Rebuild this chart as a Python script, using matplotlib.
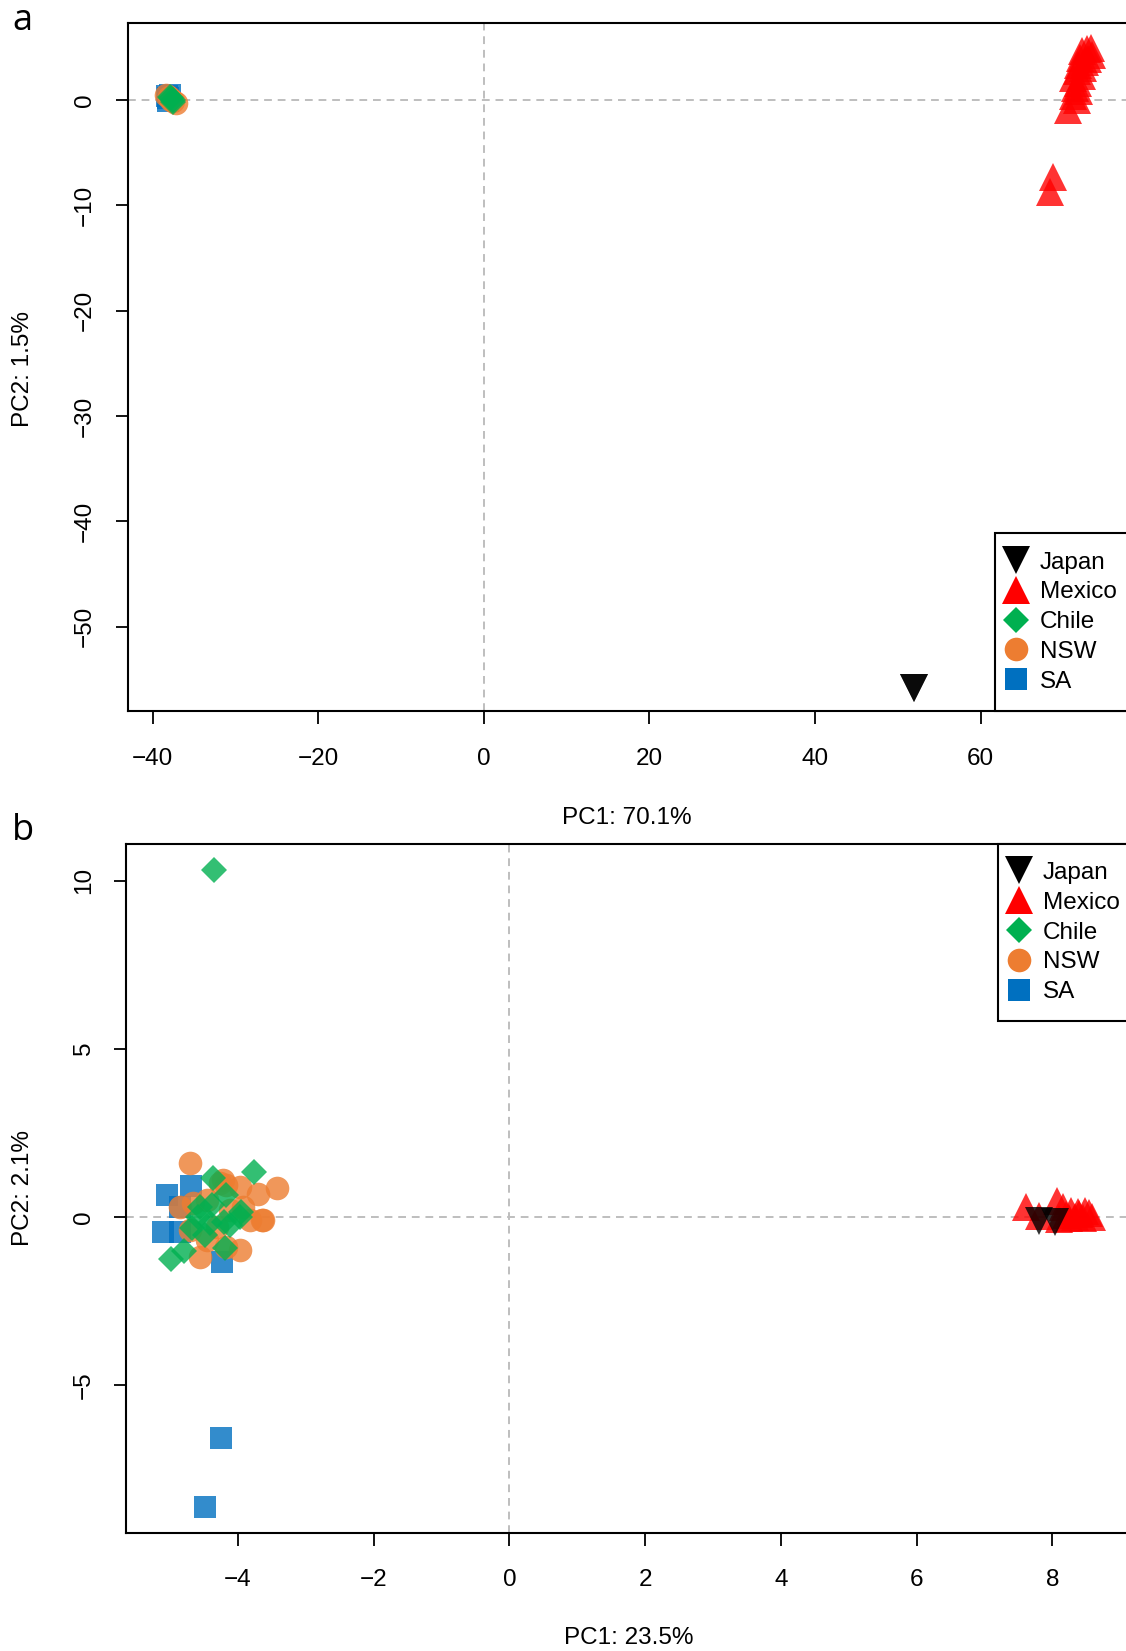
import matplotlib
matplotlib.use("Agg")
import matplotlib.pyplot as plt
from matplotlib.lines import Line2D

plt.rcParams['font.family'] = ['Liberation Sans', 'DejaVu Sans']
plt.rcParams['font.size'] = 17.5

# ---------------- data: panel a ----------------
a_sa_x = [-38.3, -38.1, -37.9, -38.2]
a_sa_y = [0.4, 0.2, 0.5, -0.1]
a_nsw_x = [-38.0, -37.6, -37.2, -38.4, -37.8]
a_nsw_y = [0.3, -0.1, -0.3, 0.5, 0.0]
a_chile_x = [-37.8, -37.5, -37.6, -37.9]
a_chile_y = [0.2, 0.0, -0.2, 0.3]
a_mex_x = [70.6, 71.1, 71.6, 71.4, 71.9, 71.2, 71.8, 71.6, 72.2, 71.8, 72.4, 72.0,
           72.6, 72.2, 72.8, 73.3, 73.4, 72.9, 68.7, 68.4]
a_mex_y = [-1.0, 0.4, 0.0, 1.1, 0.8, 2.1, 1.6, 2.7, 2.3, 3.3, 3.0, 4.0,
           3.6, 4.6, 4.8, 4.9, 4.3, 3.9, -7.3, -8.7]
a_jap_x = [52.0, 52.0]
a_jap_y = [-55.8, -55.8]

# ---------------- data: panel b ----------------
b_sa_x = [-5.05, -4.70, -5.11, -4.85, -4.24, -4.25, -4.48, -4.86]
b_sa_y = [0.64, 0.92, -0.45, -0.45, -1.34, -6.58, -8.65, 0.30]
b_nsw_x = [-4.71, -4.22, -3.97, -3.70, -3.43, -3.65, -4.85, -4.66, -3.92, -3.83,
           -4.71, -4.46, -4.17, -3.97, -4.56, -4.31, -4.12, -4.46, -4.27, -4.17, -3.63]
b_nsw_y = [1.60, 1.09, 0.89, 0.69, 0.84, -0.10, 0.29, 0.40, 0.29, -0.10,
           -0.40, -0.70, -0.89, -0.99, -1.20, -0.30, 0.20, 0.49, 1.00, 0.94, -0.09]
b_chile_x = [-4.36, -3.76, -4.37, -4.18, -4.56, -4.39, -3.95, -4.59, -4.41, -4.68,
             -4.49, -4.12, -4.19, -4.99, -4.79, -3.97, -4.21]
b_chile_y = [10.32, 1.34, 1.14, 0.64, 0.29, 0.35, 0.15, 0.0, -0.2, -0.35,
             -0.55, -0.25, -0.94, -1.25, -1.03, 0.0, -0.16]
b_mex_x = [7.61, 7.80, 8.07, 8.16, 8.28, 8.38, 8.48, 8.58, 8.20, 8.33, 8.45, 8.54, 8.10, 8.25, 8.40]
b_mex_y = [0.28, 0.03, 0.47, 0.28, 0.18, 0.13, 0.18, -0.02, 0.05, 0.0, -0.05, 0.10, -0.07, -0.05, 0.08]
b_jap_x = [7.80, 8.04]
b_jap_y = [-0.12, -0.15]

labels = ['Japan', 'Mexico', 'Chile', 'NSW', 'SA']
colors = {'Japan': '#000000', 'Mexico': '#FF0000', 'Chile': '#00B050',
          'NSW': '#ED7D31', 'SA': '#0070C0'}
markers = {'Japan': 'v', 'Mexico': '^', 'Chile': 'D', 'NSW': 'o', 'SA': 's'}
msizes = {'Japan': 20, 'Mexico': 20, 'Chile': 13, 'NSW': 17, 'SA': 16}

W, H = 1126, 1651
fig = plt.figure(figsize=(W / 100, H / 100), dpi=100)
ax1 = fig.add_axes([127.5 / W, 1 - 711 / H, (1130 - 127.5) / W, (711 - 23) / H])
ax2 = fig.add_axes([126.4 / W, 1 - 1532.6 / H, (1133 - 126.4) / W, (1532.6 - 843.7) / H])


def draw(ax, series, xlim, ylim, xticks, yticks, legloc, anchor):
    ax.axhline(0, color='#BEBEBE', ls=(0, (4, 3)), lw=1.4, zorder=1)
    ax.axvline(0, color='#BEBEBE', ls=(0, (4, 3)), lw=1.4, zorder=1)
    for name in ['SA', 'NSW', 'Chile', 'Mexico', 'Japan']:
        xs, ys = series[name]
        ax.plot(xs, ys, ls='none', marker=markers[name], ms=msizes[name],
                color=colors[name], alpha=0.8, mew=0, zorder=3)
    ax.set_xlim(*xlim)
    ax.set_ylim(*ylim)
    ax.set_xticks(xticks)
    ax.set_yticks(yticks)
    ax.tick_params(length=9, width=1.3, direction='out', color='black')
    ax.tick_params(axis='x', pad=17.5)
    ax.tick_params(axis='y', pad=13.5, labelrotation=90)
    for lab in ax.get_yticklabels():
        lab.set_va('center')
    for sp in ax.spines.values():
        sp.set_linewidth(1.5)
    handles = [Line2D([], [], ls='none', marker=markers[n], ms=msizes[n],
                      color=colors[n], mew=0) for n in labels]
    leg = ax.legend(handles, labels, loc=legloc, bbox_to_anchor=anchor,
                    borderaxespad=0,
                    borderpad=0.75, handlelength=0.25, handletextpad=0.85,
                    labelspacing=0.32, fancybox=False, framealpha=1,
                    edgecolor='black', fontsize=17.5)
    leg.get_frame().set_linewidth(1.5)
    leg.set_zorder(5)


draw(ax1, {'SA': (a_sa_x, a_sa_y), 'NSW': (a_nsw_x, a_nsw_y),
           'Chile': (a_chile_x, a_chile_y), 'Mexico': (a_mex_x, a_mex_y),
           'Japan': (a_jap_x, a_jap_y)},
     (-43.04, 78.03), (-58.0, 7.3), [-40, -20, 0, 20, 40, 60],
     [0, -10, -20, -30, -40, -50], 'lower right', (1.005, 0.0))

draw(ax2, {'SA': (b_sa_x, b_sa_y), 'NSW': (b_nsw_x, b_nsw_y),
           'Chile': (b_chile_x, b_chile_y), 'Mexico': (b_mex_x, b_mex_y),
           'Japan': (b_jap_x, b_jap_y)},
     (-5.645, 9.19), (-9.4, 11.1), [-4, -2, 0, 2, 4, 6, 8],
     [-5, 0, 5, 10], 'upper right', (1.005, 1.0))

fig.text(627 / W, 1 - 818 / H, 'PC1: 70.1%', ha='center', va='center')
fig.text(23 / W, 1 - 369 / H, 'PC2: 1.5%', ha='center', va='center', rotation=90)
fig.text(629 / W, 1 - 1638 / H, 'PC1: 23.5%', ha='center', va='center')
fig.text(23 / W, 1 - 1188 / H, 'PC2: 2.1%', ha='center', va='center', rotation=90)

fig.text(12 / W, 1 - 30 / H, 'a', family='Open Sans', fontsize=26, ha='left', va='baseline')
fig.text(12 / W, 1 - 840 / H, 'b', family='Open Sans', fontsize=26, ha='left', va='baseline')

fig.savefig('out.png', dpi=100)
